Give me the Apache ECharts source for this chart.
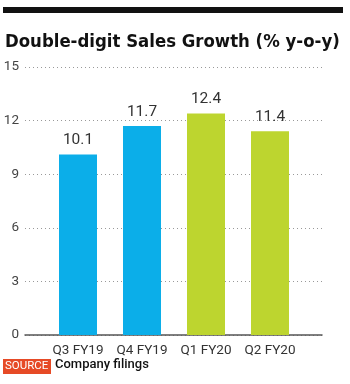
<!DOCTYPE html>
<html style="height: 100%">
<head>
  <meta charset="utf-8">
  <script src="https://cdn.jsdelivr.net/npm/echarts@6/dist/echarts.min.js"></script>
</head>
<body style="height: 100%; margin: 0; background: #fff">
  <div id="container" style="width: 350px; height: 384px"></div>
  <script type="text/javascript">
    var categories = ['Q3 FY19', 'Q4 FY19', 'Q1 FY20', 'Q2 FY20'];
    var growth = [10.1, 11.7, 12.4, 11.4];
    var barColors = ['#0BAEE9', '#0BAEE9', '#BDD52F', '#BDD52F'];
    var yTicks = [0, 3, 6, 9, 12, 15];

    var myChart = echarts.init(document.getElementById('container'), null, { renderer: 'canvas' });
    var labelFont = 'Roboto, sans-serif';

    var option = {
      animation: false,
      graphic: [
        { type: 'rect', shape: { x: 3, y: 7, width: 340, height: 6 }, style: { fill: '#111' } },
        {
          type: 'text', left: 5, top: 33,
          style: { text: 'Double-digit Sales Growth (% y-o-y)', font: 'bold 18.4px "Liberation Sans Narrow", "DejaVu Sans Condensed", sans-serif', fill: '#111' }
        },
        { type: 'rect', shape: { x: 3, y: 359, width: 48, height: 15 }, style: { fill: '#E64A26' } },
        {
          type: 'text', left: 5, top: 360,
          style: { text: 'SOURCE', font: '11.5px Roboto, sans-serif', fill: '#fff' }
        },
        {
          type: 'text', left: 55, top: 358,
          style: { text: 'Company filings', font: '500 13px Roboto, sans-serif', fill: '#111' }
        }
      ],
      grid: [
        { left: 25, right: 28, top: 67, bottom: 49 },
        { left: 46, right: 48, top: 67, bottom: 49 }
      ],
      xAxis: [
        { type: 'category', gridIndex: 0, data: [''], axisLine: { lineStyle: { color: '#555', width: 1.5 } }, axisTick: { show: false }, axisLabel: { show: false } },
        {
          type: 'category', gridIndex: 1, data: categories,
          axisLine: { show: false }, axisTick: { show: false },
          axisLabel: { interval: 0, color: '#333', fontSize: 13.5, fontFamily: labelFont, margin: 9 }
        }
      ],
      yAxis: [
        {
          type: 'value', gridIndex: 0, min: 0, max: 15, interval: 3,
          axisLine: { show: false }, axisTick: { show: false },
          axisLabel: { color: '#444', fontSize: 13.5, fontFamily: labelFont, margin: 6 },
          splitLine: { lineStyle: { color: '#999', type: [1, 3] } }
        },
        { type: 'value', gridIndex: 1, min: 0, max: 15, interval: 3, show: false, splitLine: { show: false } }
      ],
      series: [{
        type: 'bar',
        xAxisIndex: 1,
        yAxisIndex: 1,
        barWidth: 38,
        data: growth.map(function (v, i) {
          return { value: v, itemStyle: { color: barColors[i] } };
        }),
        label: {
          show: true, position: 'top', distance: 6,
          color: '#333', fontSize: 15.5, fontFamily: labelFont
        }
      }]
    };

    myChart.setOption(option);
  </script>
</body>
</html>
